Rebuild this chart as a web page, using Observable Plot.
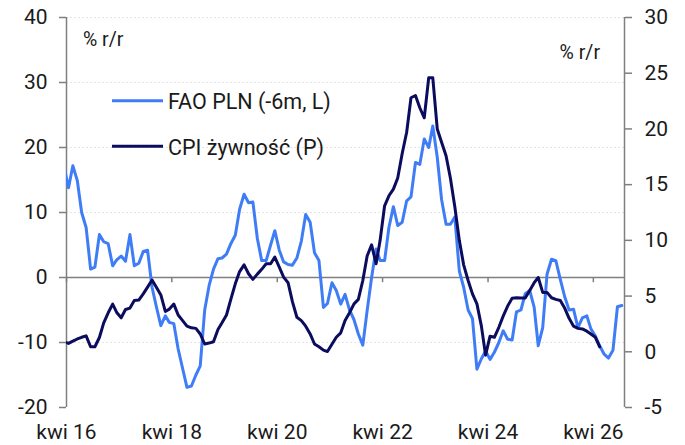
<!DOCTYPE html>
<html><head><meta charset="utf-8">
<script src="https://cdn.jsdelivr.net/npm/d3@7"></script>
<script src="https://cdn.jsdelivr.net/npm/@observablehq/plot@0.6"></script>
<style>
body{margin:0;background:#fff;}
#wrap{position:relative;width:685px;height:445px;}
</style></head><body><div id="wrap"></div>
<script>
// FAO PLN (-6m), % r/r, monthly from March 2016 (left axis)
const faoStart = [2016, 2];
const faoValues = [
  17.0, 13.8, 17.2, 14.9, 10.0, 7.7, 1.3, 1.6, 6.6, 5.5, 5.2, 1.8, 2.7, 3.3, 2.5, 6.6, 1.8, 2.2, 4.0, 4.2,
  -1.5, -4.5, -7.4, -5.9, -6.9, -7.1, -11.0, -14.0, -16.9, -16.7, -15.0, -13.6, -5.0, -1.3, 1.3, 2.9, 3.0, 3.6, 5.2, 6.5,
  10.5, 12.8, 11.5, 11.6, 6.0, 2.6, 2.6, 5.0, 7.2, 4.2, 2.4, 2.0, 1.9, 3.0, 5.6, 9.7, 8.5, 3.8, 2.6, -4.6,
  -4.0, -0.8, -2.0, -4.1, -2.6, -5.0, -6.5, -8.7, -10.4, -5.1, 0.0, 4.4, 2.6, 2.6, 7.7, 10.9, 8.0, 8.5, 11.8, 12.4,
  17.7, 17.4, 21.3, 20.0, 23.3, 18.5, 12.0, 8.2, 8.2, 9.3, 1.0, -1.5, -5.0, -6.3, -14.1, -12.5, -11.3, -12.6, -11.5, -10.0,
  -8.2, -9.5, -9.6, -5.3, -5.0, -2.5, -2.0, -4.6, -10.5, -7.7, 0.5, 2.8, 2.6, -0.3, -3.0, -5.0, -4.9, -7.7, -6.2, -5.9,
  -7.9, -9.0, -10.5, -11.8, -12.4, -11.2, -4.5, -4.3
];
// CPI żywność, % r/r, monthly from March 2016 (right axis)
const cpiStart = [2016, 2];
const cpiValues = [
  0.9, 0.75, 0.95, 1.15, 1.3, 1.43, 0.45, 0.45, 1.28, 2.6, 3.5, 4.28, 3.53, 3.05, 3.8, 3.92, 4.6, 4.64, 5.2, 5.8,
  6.44, 5.8, 5.1, 3.62, 3.83, 4.28, 3.3, 2.8, 2.3, 2.15, 2.1, 1.6, 0.7, 0.78, 0.9, 2.0, 2.6, 3.3, 4.7, 6.1,
  7.2, 7.8, 7.0, 6.5, 6.97, 7.4, 7.9, 7.9, 8.5, 7.6, 6.7, 6.2, 4.5, 3.1, 2.8, 2.3, 1.6, 0.7, 0.45, 0.15,
  0.02, 0.68, 1.3, 1.7, 2.8, 3.5, 4.3, 4.7, 6.4, 8.6, 9.6, 7.9, 10.0, 13.1, 14.0, 14.6, 15.6, 17.8, 19.7, 22.8,
  23.0, 21.9, 21.0, 24.6, 24.6, 20.0, 18.8, 17.6, 15.6, 13.0, 10.0, 7.8, 6.4, 5.2, 4.3, 2.3, -0.3, 1.4, 1.3, 2.2,
  3.2, 4.1, 4.8, 4.85, 4.82, 4.82, 5.5, 6.2, 6.67, 5.33, 5.33, 4.85, 4.7, 4.6, 3.9, 3.0, 2.3, 2.1, 2.05, 1.85,
  1.6, 1.3, 0.45
];
const leftTicks = [-20, -10, 0, 10, 20, 30, 40];
const rightTicks = [-5, 0, 5, 10, 15, 20, 25, 30];
const xTickYears = [2016, 2018, 2020, 2022, 2024, 2026];
const xTickLabels = ["kwi 16", "kwi 18", "kwi 20", "kwi 22", "kwi 24", "kwi 26"];
const seriesNames = ["FAO PLN (-6m, L)", "CPI żywność (P)"];
const unitLabel = "% r/r";
const colors = ["#3f7df7", "#0c0c5e"];

const monthDate = (start, i) => new Date(Date.UTC(start[0], start[1] + i, 15));
const fao = faoValues.map((v, i) => ({date: monthDate(faoStart, i), v}));
const cpi = cpiValues.map((v, i) => ({date: monthDate(cpiStart, i), v}));
// right axis (-5..30) shares the frame with left axis (-20..40)
const toLeft = r => (r + 5) * 60 / 35 - 20;
const fromLeft = l => (l + 20) * 35 / 60 - 5;
const xDomain = [new Date(Date.UTC(2016, 3, 1)), new Date(Date.UTC(2026, 10, 3))];
const xTicks = xTickYears.map(y => new Date(Date.UTC(y, 3, 1)));
const xLabel = d => xTickLabels[xTicks.findIndex(t => +t === +d)];

const font = "Roboto, 'Liberation Sans', Arial, sans-serif";
const axisColor = "#7f7f7f";
const textColor = "#1a1a1a";

const chart = Plot.plot({
  width: 685, height: 445,
  marginLeft: 66, marginRight: 61, marginTop: 17, marginBottom: 38,
  style: {fontFamily: font, fontSize: "21px", background: "#fff", color: textColor},
  x: {type: "utc", domain: xDomain},
  y: {domain: [-20, 40]},
  marks: [
    Plot.ruleY(leftTicks.filter(d => d !== 0 && d !== -20), {stroke: "#e4e4e4", strokeWidth: 1, strokeDasharray: "2,2"}),
    Plot.ruleY([0], {stroke: axisColor, strokeWidth: 1.5}),
    Plot.ruleX(xDomain, {stroke: axisColor, strokeWidth: 1.5}),
    Plot.ruleX(xTicks, {y1: 0, y2: -0.8, stroke: axisColor, strokeWidth: 1.5}),
    Plot.axisY(leftTicks, {anchor: "left", tickSize: 7, tickPadding: 12, stroke: axisColor, strokeWidth: 1.5, fill: textColor, tickFormat: d => String(d), label: null}),
    Plot.axisY(rightTicks.map(toLeft), {anchor: "right", tickSize: 7, tickPadding: 13, stroke: axisColor, strokeWidth: 1.5, fill: textColor, tickFormat: d => String(Math.round(fromLeft(d))), label: null}),
    Plot.axisX(xTicks, {anchor: "bottom", tickSize: 0, tickPadding: 17, fill: textColor, tickFormat: xLabel, label: null}),
    Plot.line(fao, {x: "date", y: "v", stroke: colors[0], strokeWidth: 3, clip: true}),
    Plot.line(cpi, {x: "date", y: d => toLeft(d.v), stroke: colors[1], strokeWidth: 3, clip: true})
  ]
});
document.getElementById("wrap").appendChild(chart);

// unit labels and legend
const svg = d3.select(chart);
const g = svg.append("g").attr("font-family", font).attr("fill", textColor).attr("text-anchor", "start");
g.append("text").attr("x", 83).attr("y", 46).attr("font-size", 19.5).attr("text-anchor", "start").text(unitLabel);
g.append("text").attr("x", 600).attr("y", 59).attr("font-size", 19.5).attr("text-anchor", "end").text(unitLabel);
const legY = [100.7, 146.3];
seriesNames.forEach((name, i) => {
  g.append("line").attr("x1", 112).attr("x2", 163).attr("y1", legY[i]).attr("y2", legY[i])
    .attr("stroke", colors[i]).attr("stroke-width", 3);
  g.append("text").attr("x", 168).attr("y", legY[i] + 8.3).attr("font-size", 21.5).attr("text-anchor", "start").text(name);
});
</script></body></html>
